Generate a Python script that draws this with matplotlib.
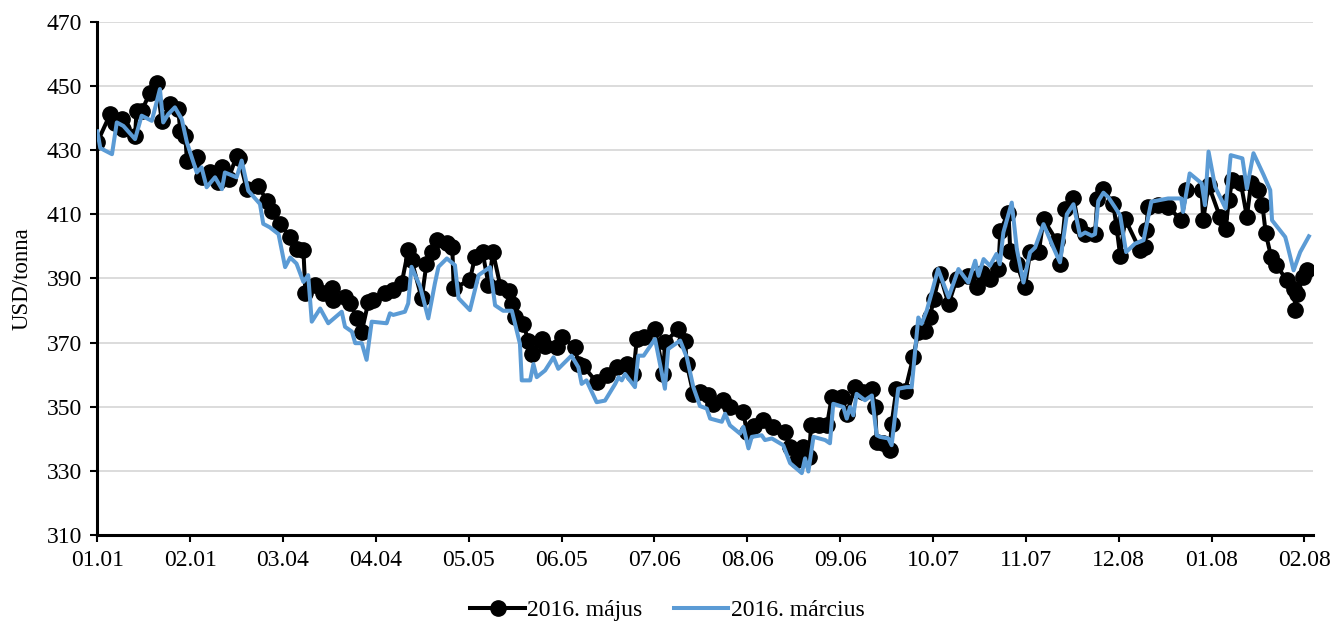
import numpy as np
import pandas as pd
import matplotlib
matplotlib.use("Agg")
import matplotlib.pyplot as plt
import matplotlib.dates as mdates

# napok 2015.01.01-tol, USD/tonna
maj_days = [0, 4.3, 6, 8.2, 8.7, 12.6, 13.1, 14.8, 17.6, 19.9, 21.5, 24.3, 27.0, 27.7, 29.4,
            29.9, 33.2, 34.8, 37.6, 40.4, 41.6, 43.8, 46.5, 47.3, 49.9, 53.8, 56.5, 58.2, 61.0,
            64.4, 66.5, 68.8, 69.5, 72.7, 75.5, 78.2, 78.6, 82.7, 84.5, 86.6, 88.3, 90.5, 92.1,
            96.1, 98.8, 101.6, 103.8, 104.9, 108.3, 109.9, 111.6, 113.3, 116.7, 118.5, 119.0,
            124.4, 126.1, 128.6, 130.6, 132.1, 134.6, 137.3, 138.4, 139.5, 142.2, 143.9, 145.0,
            148.3, 149.5, 153.4, 155.1, 159.5, 160.6, 162.2, 166.7, 170.0, 173.4, 176.7, 179.0,
            180.1, 182.4, 186.2, 189.0, 189.5, 194.0, 196.2, 196.8, 199.0, 201.2, 204.0, 205.7,
            209.0, 211.2, 215.7, 216.8, 219.4, 222.3, 225.7, 229.6, 231.3, 233.5, 235.7, 237.6,
            238.3, 240.8, 243.6, 245.2, 248.6, 250.2, 253.0, 255.8, 258.6, 259.7, 260.2, 262.4,
            264.6, 265.2, 266.8, 269.7, 272.4, 274.1, 276.3, 278.0, 279.2, 281.3, 284.2, 286.9,
            290.8, 293.6, 295.3, 298.0, 300.8, 301.5, 304.2, 304.8, 307.0, 309.7, 311.4, 314.3,
            315.9, 320.3, 321.4, 323.2, 325.9, 327.6, 329.8, 333.1, 333.9, 335.9, 339.2, 340.3,
            341.5, 343.1, 348.1, 349.8, 350.1, 350.9, 354.1, 357.5, 361.9, 363.6, 368.7, 369.2,
            371.0, 374.8, 376.7, 377.8, 378.9, 381.8, 383.8, 385.2, 387.4, 389.0, 390.1, 391.9,
            393.6, 397.2, 399.5, 400.0, 400.6, 402.6, 404.0]
maj_values = [432.4, 441.2, 438.5, 439.6, 436.5, 434.4, 442.2, 442.2, 447.9, 451, 439.1, 444.3,
              442.7, 436, 434.4, 426.7, 427.7, 421.5, 423, 419.9, 424.6, 421, 428.2, 427.5,
              417.8, 418.9, 414.2, 411.1, 407, 402.8, 399.3, 398.8, 385.3, 387.9, 385.3, 386.9,
              383.2, 384.3, 382.2, 377.5, 373.4, 382.7, 383.2, 385.3, 386.3, 388.4, 398.8, 395.7,
              383.8, 394.6, 398.3, 401.9, 400.9, 399.8, 386.9, 389.5, 396.7, 398.3, 388, 398.1,
              387.4, 386.2, 382, 377.9, 375.8, 370.6, 366.5, 371.1, 369, 368.5, 371.6, 368.5,
              363.3, 362.8, 357.6, 360, 362.3, 363.3, 360.2, 371.1, 371.6, 374.2, 360.2, 370.1,
              374.2, 370.6, 363.3, 354, 354.5, 353.5, 350.9, 352, 349.9, 348.4, 342.2, 344,
              345.8, 343.7, 342.2, 337.5, 333.4, 337.5, 334.4, 344.2, 344.2, 344.2, 353, 353,
              347.8, 356.1, 354.5, 355.6, 349.9, 339.1, 338.6, 336.5, 344.7, 355.6, 355, 365.4,
              373.2, 373.7, 377.8, 383.5, 391.3, 382, 389.8, 390.8, 387.2, 391.8, 389.8, 392.9,
              404.8, 410.5, 398.6, 394.4, 387.2, 398.1, 398.1, 408.4, 401.7, 394.4, 411.6, 415.2,
              406.4, 403.8, 403.8, 414.7, 417.8, 413.1, 405.9, 397, 408.6, 398.8, 399.8, 405,
              412.3, 413, 412.3, 408.1, 417.5, 417.5, 408.1, 419.1, 409.2, 405.5, 414.4, 420.6,
              419.6, 409.2, 419.6, 417.5, 412.8, 404, 396.7, 394.1, 389.4, 386.8, 380, 385.2,
              390.5, 392.5]

mar_days = [0, 1, 4.9, 6.5, 8.7, 12.6, 14.8, 18.2, 20.9, 22.0, 23.7, 25.9, 28.2, 29.9, 33.2,
            34.8, 36.5, 39.3, 41.6, 42.6, 46.5, 48.2, 50.4, 54.3, 55.4, 57.6, 60.5, 62.7, 64.4,
            66.5, 68.8, 70.4, 71.6, 74.4, 77.1, 81.6, 82.7, 85.0, 86.1, 88.3, 89.9, 91.6, 96.6,
            97.7, 98.8, 102.7, 103.8, 104.9, 107.8, 110.5, 112.7, 113.9, 116.7, 119.4, 120.6,
            124.4, 127.3, 131.1, 132.8, 135.5, 138.4, 141.1, 141.7, 144.5, 145.6, 146.7, 149.5,
            152.3, 153.9, 158.3, 160.6, 161.7, 163.3, 166.7, 169.5, 172.9, 174.0, 175.1, 176.2,
            179.5, 180.6, 182.4, 186.2, 189.5, 190.6, 194.6, 196.8, 199.0, 201.2, 203.5, 204.6,
            208.5, 209.6, 211.2, 214.6, 215.7, 217.4, 218.5, 221.8, 222.9, 225.2, 229.0, 231.3,
            235.2, 236.3, 237.4, 239.1, 243.0, 244.6, 245.7, 249.1, 250.2, 251.3, 252.4, 253.5,
            256.3, 258.6, 260.2, 261.3, 264.1, 265.2, 267.4, 270.2, 271.9, 274.1, 275.2, 276.9,
            278.6, 280.7, 284.2, 287.5, 290.8, 293.1, 294.2, 295.9, 298.0, 300.2, 301.3, 302.5,
            305.3, 307.0, 309.2, 311.4, 313.1, 315.9, 319.2, 321.4, 323.7, 325.9, 328.1, 329.8,
            332.0, 333.1, 334.2, 335.9, 337.6, 339.8, 341.5, 343.1, 343.5, 346.4, 349.3, 351.9,
            357.5, 361.9, 362.5, 364.7, 368.7, 369.8, 371.0, 373.2, 376.7, 378.4, 382.3, 383.8,
            386.0, 389.4, 391.6, 392.2, 396.6, 397.2, 399.4, 401.6, 404.5]
mar_values = [435.8, 430.6, 428.7, 438.6, 437.5, 433.4, 440.7, 439.1, 449, 438.6, 441.2, 443.3,
              439.6, 432.4, 423, 424.6, 418.4, 421.5, 417.8, 423, 421.5, 426.7, 417.3, 413.2,
              407, 405.9, 403.8, 393.5, 396.5, 394.6, 388.9, 391, 376.5, 380.6, 376, 379.6,
              374.9, 373.4, 369.8, 369.8, 364.6, 376.5, 376, 379.1, 378.6, 379.6, 382.2, 393.6,
              387.4, 377.5, 388.4, 393.6, 396.2, 394.1, 383.8, 380.1, 391, 393.5, 381.6, 379.9,
              379.9, 369.6, 358.2, 358.2, 363.3, 359.2, 361.3, 365.4, 361.8, 365.9, 362.3, 357.1,
              358.2, 351.4, 351.9, 357.1, 359.2, 358.2, 360.2, 356.1, 365.9, 365.9, 371.1, 355.6,
              368, 370.6, 365.4, 356.1, 350.2, 349.4, 346.3, 345.3, 347.8, 344.2, 341.6, 343.7,
              337, 340.6, 341.1, 339.6, 340.1, 338, 332.4, 329.3, 333.9, 329.8, 340.6, 339.6,
              338.6, 350.9, 349.9, 346.3, 349.9, 347.3, 354, 352, 353.5, 341.1, 340.6, 340.1,
              338, 355.6, 356.1, 356.1, 377.8, 375.8, 379.9, 385.6, 392.9, 384.1, 392.9, 388.7,
              395.5, 390.8, 396, 393.9, 397.6, 394.4, 404.3, 413.6, 399.1, 388.7, 398.1, 399.6,
              406.9, 399.6, 395, 410, 413.1, 403.3, 404.3, 403.3, 403.8, 414.1, 416.7, 415.2,
              412.1, 409.6, 400.3, 398.2, 400.8, 401.9, 413.9, 414.9, 414.9, 410.7, 422.7, 419.6,
              412.8, 429.5, 418.5, 411.8, 428.4, 427.4, 418, 429, 422.2, 417.5, 408.1, 402.9,
              400.8, 392.5, 398.2, 403.1]

start = pd.Timestamp("2015-01-01")
tick_dates = pd.date_range(start, periods=14, freq="31D")
y_ticks = list(range(310, 471, 20))

plt.rcParams["font.family"] = ["Liberation Serif", "DejaVu Serif"]

fig = plt.figure(figsize=(13.35, 6.23), dpi=100)
ax = fig.add_axes([0.0729, 0.1412, 0.9109, 0.8240])

x_maj = start + pd.to_timedelta(maj_days, unit="D")
x_mar = start + pd.to_timedelta(mar_days, unit="D")

ax.plot(x_maj, maj_values, color="black", lw=2.9, marker="o", markersize=11,
        label="2016. május", zorder=3)
ax.plot(x_mar, mar_values, color="#5B9BD5", lw=2.9, label="2016. március", zorder=4)

ax.set_ylim(310, 470)
ax.set_yticks(y_ticks)
ax.set_xlim(start, start + pd.Timedelta(days=406))
ax.set_xticks(tick_dates)
ax.xaxis.set_major_formatter(mdates.DateFormatter("%m.%d"))

ax.grid(axis="y", color="#d9d9d9", lw=1.3)
ax.set_axisbelow(True)
for s in ["top", "right"]:
    ax.spines[s].set_visible(False)
for s in ["left", "bottom"]:
    ax.spines[s].set_linewidth(2.2)
ax.tick_params(axis="both", direction="out", length=5, width=1.5, labelsize=17, pad=6)
ax.set_ylabel("USD/tonna", fontsize=16.5, labelpad=10)

fig.legend(loc="center", bbox_to_anchor=(0.5, 0.02), ncol=2, frameon=False,
           fontsize=17, handlelength=2.3, handletextpad=0.1, columnspacing=1.35)

fig.savefig("out.png", dpi=100)
